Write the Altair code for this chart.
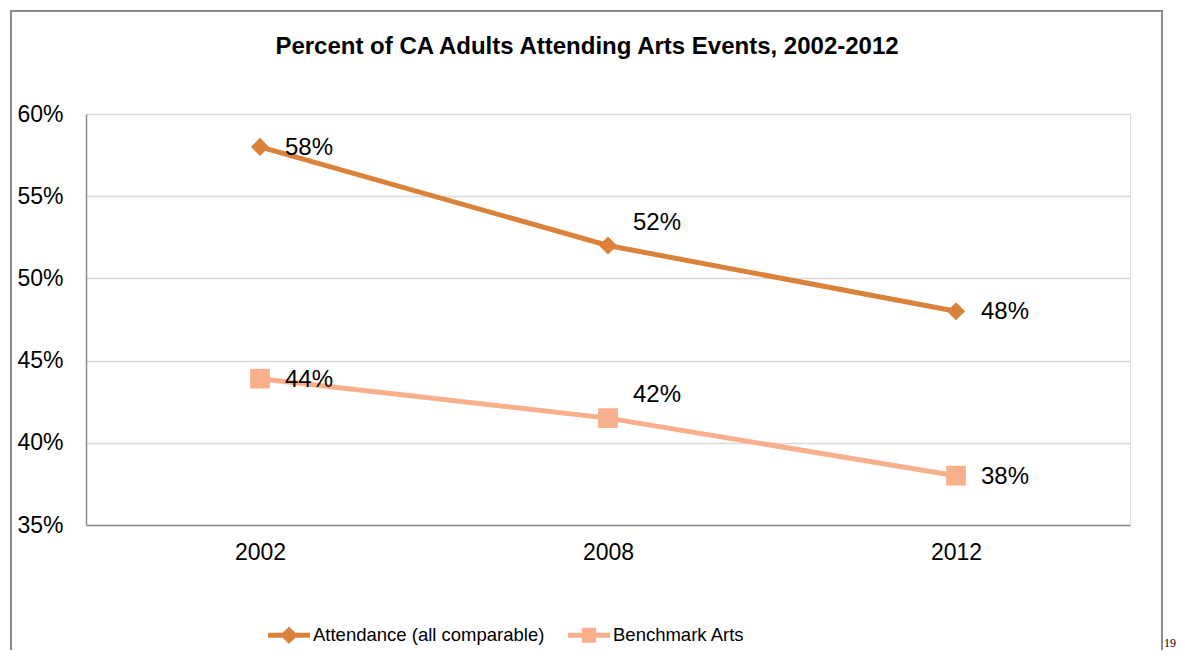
import altair as alt
import pandas as pd

years = ["2002", "2008", "2012"]
series_names = ["Attendance (all comparable)", "Benchmark Arts"]
attendance = [0.58, 0.52, 0.48]
benchmark = [0.439, 0.415, 0.380]
attendance_labels = ["58%", "52%", "48%"]
benchmark_labels = ["44%", "42%", "38%"]
y_ticks = [0.35, 0.40, 0.45, 0.50, 0.55, 0.60]
colors = ["#DB823A", "#F8B08C"]
title_text = "Percent of CA Adults Attending Arts Events, 2002-2012"
page_number = "19"

rows = []
for s, vals, labs in [(series_names[0], attendance, attendance_labels),
                      (series_names[1], benchmark, benchmark_labels)]:
    for yr, v, l in zip(years, vals, labs):
        rows.append({"year": yr, "series": s, "value": v, "label": l})
df = pd.DataFrame(rows)
one = pd.DataFrame({"k": [0]})

FONT = "Liberation Sans"
FS = 23

legend_paths = [
    "M-1,-0.12H1V0.12H-1Z M-0.42,0L0,-0.42L0.42,0L0,0.42Z",
    "M-1,-0.12H1V0.12H-1Z M-0.34,-0.36H0.34V0.36H-0.34Z",
]

x = alt.X("year:N", sort=years,
          scale=alt.Scale(type="point", padding=0.5),
          axis=alt.Axis(title=None, labelAngle=0, ticks=False, tickSize=0,
                        domainColor="#8c8c8c", domainWidth=1.5,
                        labelFontSize=FS, labelPadding=16, labelColor="black",
                        labelFont=FONT, grid=False))
y = alt.Y("value:Q",
          scale=alt.Scale(domain=[0.35, 0.60], nice=False, zero=False),
          axis=alt.Axis(title=None, values=y_ticks, format=".0%", ticks=False,
                        tickSize=0, labelAlign="left", labelBaseline="middle",
                        labelPadding=69, labelFontSize=FS,
                        labelColor="black", labelFont=FONT,
                        domainColor="#8c8c8c", domainWidth=1.5,
                        gridColor="#d9d9d9", gridWidth=1.5))
color_scale = alt.Scale(domain=series_names, range=colors)

base = alt.Chart(df)

leg = dict(title=None, orient="none", legendX=182, legendY=500,
           direction="horizontal", labelFontSize=18.5,
           labelFont=FONT,
           labelColor="black", labelOffset=3, columnPadding=23,
           labelLimit=500,
           symbolSize=1764, symbolStrokeWidth=0, symbolOpacity=1)

legend_layer = base.transform_filter("false").mark_point(
    filled=True, size=1764, opacity=1
).encode(
    x=x, y=y,
    color=alt.Color("series:N", scale=color_scale, legend=alt.Legend(**leg)),
    shape=alt.Shape("series:N",
                    scale=alt.Scale(domain=series_names, range=legend_paths),
                    legend=alt.Legend(**leg)),
)

lines = base.mark_line(strokeWidth=5).encode(
    x=x, y=y,
    color=alt.Color("series:N", scale=color_scale, legend=None),
    detail="series:N",
)

diamonds = base.transform_filter(
    alt.datum.series == series_names[0]
).mark_point(shape="diamond", filled=True, size=330, opacity=1).encode(
    x=x, y=y, color=alt.Color("series:N", scale=color_scale, legend=None))

squares = base.transform_filter(
    alt.datum.series == series_names[1]
).mark_point(shape="square", filled=True, size=390, opacity=1).encode(
    x=x, y=y, color=alt.Color("series:N", scale=color_scale, legend=None))

labels_side = base.transform_filter(
    alt.datum.year != "2008"
).mark_text(align="left", baseline="middle", dx=25, dy=1, fontSize=24,
            font=FONT, color="black").encode(x=x, y=y, text="label:N")

labels_mid = base.transform_filter(
    alt.datum.year == "2008"
).mark_text(align="left", baseline="middle", dx=25, dy=-23, fontSize=24,
            font=FONT, color="black").encode(x=x, y=y, text="label:N")

frame = alt.Chart(one).mark_rect(fillOpacity=0, stroke="#8c8c8c",
                                 strokeWidth=2).encode(
    x=alt.value(-75), x2=alt.value(1076),
    y=alt.value(-103), y2=alt.value(640))

title = alt.Chart(one).mark_text(text=title_text, font=FONT, fontSize=24,
                                 fontWeight="bold", align="center",
                                 baseline="alphabetic", color="black").encode(
    x=alt.value(501), y=alt.value(-60))

page = alt.Chart(one).mark_text(text=page_number, font="Liberation Serif",
                                fontSize=12, align="left",
                                baseline="alphabetic", color="black").encode(
    x=alt.value(1078), y=alt.value(533))

chart = alt.layer(legend_layer, lines, diamonds, squares, labels_side,
                  labels_mid, frame, title, page).properties(
    width=1044, height=411,
    autosize=alt.AutoSizeParams(type="none"),
    padding={"left": 78, "top": 106, "right": 47, "bottom": 125},
).configure_view(stroke=None).configure(background="white")

chart.save("out.html", embed_options={"renderer": "svg", "actions": False})
